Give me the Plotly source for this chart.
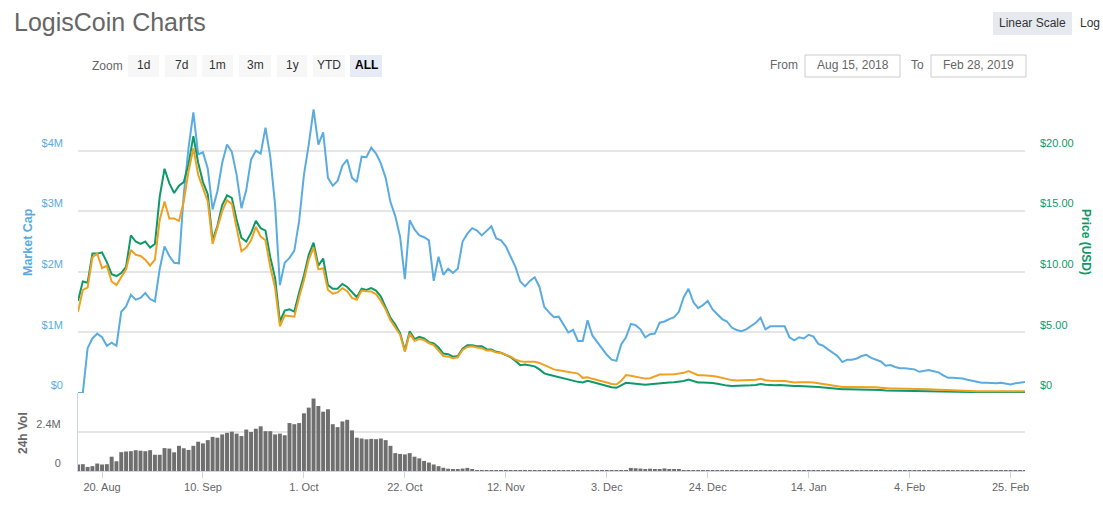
import plotly.graph_objects as go
import pandas as pd

# ---------------- data (daily, 15 Aug 2018 .. 28 Feb 2019) ----------------
start_date = "2018-08-15"
n_days = 198

market_cap_musd = [
    0, 0, 0.74, 0.90, 0.98, 0.92, 0.78, 0.83, 0.78, 1.34,
    1.43, 1.62, 1.54, 1.57, 1.65, 1.55, 1.51, 2.05, 2.42, 2.26,
    2.15, 2.14, 3.28, 4.05, 4.63, 3.94, 3.97, 3.70, 3.03, 3.33,
    3.80, 4.10, 3.98, 3.60, 3.05, 3.35, 3.85, 4.00, 3.95, 4.38,
    3.90, 3.10, 1.78, 2.15, 2.23, 2.35, 2.84, 3.60, 4.10, 4.68,
    4.10, 4.30, 3.55, 3.42, 3.50, 3.75, 3.85, 3.55, 3.48, 3.90,
    3.89, 4.05, 3.95, 3.79, 3.55, 3.15, 2.92, 2.58, 1.88, 2.85,
    2.70, 2.60, 2.57, 2.52, 1.85, 2.25, 1.95, 2.05, 1.98, 2.05,
    2.50, 2.63, 2.72, 2.68, 2.60, 2.67, 2.75, 2.55, 2.52, 2.42,
    2.25, 2.08, 1.84, 1.76, 1.85, 1.91, 1.75, 1.42, 1.33, 1.25,
    1.26, 1.13, 1.00, 1.04, 0.86, 0.86, 1.20, 0.95, 0.84, 0.75,
    0.63, 0.55, 0.53, 0.80, 0.92, 1.14, 1.12, 1.05, 0.92, 0.97,
    0.98, 1.16, 1.18, 1.22, 1.25, 1.34, 1.58, 1.72, 1.50, 1.40,
    1.45, 1.52, 1.38, 1.30, 1.22, 1.18, 1.08, 1.04, 1.02, 1.05,
    1.10, 1.16, 1.24, 1.05, 1.10, 1.10, 1.10, 1.10, 0.92, 0.87,
    0.92, 0.90, 0.96, 0.93, 0.81, 0.78, 0.72, 0.66, 0.61, 0.51,
    0.55, 0.55, 0.57, 0.61, 0.63, 0.58, 0.55, 0.52, 0.45, 0.46,
    0.43, 0.41, 0.41, 0.40, 0.39, 0.35, 0.36, 0.38, 0.36, 0.34,
    0.29, 0.25, 0.25, 0.25, 0.24, 0.22, 0.20, 0.18, 0.17, 0.17,
    0.16, 0.16, 0.17, 0.15, 0.14, 0.16, 0.17, 0.18,
]

price_usd = [
    7.6, 9.2, 9.1, 11.5, 11.5, 11.6, 10.8, 9.8, 9.65, 9.9,
    10.4, 13.0, 12.5, 12.3, 12.5, 12.0, 12.3, 16.2, 18.5, 17.3,
    16.5, 17.1, 17.4, 18.9, 21.2, 19.0, 17.4, 16.4, 12.6, 13.8,
    15.5, 16.3, 16.1, 14.3, 12.8, 12.5, 13.2, 14.2, 13.6, 13.4,
    11.2, 9.5, 5.9, 6.8, 6.9, 6.72, 8.3, 9.7, 11.4, 12.4,
    10.5, 11.1, 8.9, 8.6, 8.6, 9.0, 8.75, 8.3, 7.9, 8.6,
    8.5, 8.65, 8.45, 7.95, 7.1, 6.2, 5.65, 4.95, 3.5, 5.1,
    4.45, 4.64, 4.50, 4.20, 4.09, 3.75, 3.25, 3.20, 3.00, 3.05,
    3.65, 3.95, 3.95, 3.85, 3.85, 3.62, 3.60, 3.40, 3.32, 3.15,
    2.95, 2.65, 2.30, 2.35, 2.29, 2.20, 1.95, 1.62, 1.50, 1.40,
    1.33, 1.22, 1.12, 1.04, 0.92, 0.87, 1.00, 0.90, 0.80, 0.65,
    0.55, 0.47, 0.43, 0.62, 0.84, 0.81, 0.77, 0.72, 0.69, 0.72,
    0.77, 0.81, 0.85, 0.86, 0.88, 0.91, 0.99, 1.12, 0.98, 0.87,
    0.86, 0.86, 0.83, 0.76, 0.67, 0.61, 0.58, 0.58, 0.60, 0.63,
    0.63, 0.66, 0.75, 0.68, 0.63, 0.63, 0.66, 0.62, 0.60, 0.58,
    0.58, 0.58, 0.56, 0.52, 0.49, 0.44, 0.40, 0.36, 0.31, 0.30,
    0.30, 0.30, 0.30, 0.30, 0.30, 0.28, 0.26, 0.24, 0.20, 0.19,
    0.19, 0.19, 0.19, 0.19, 0.18, 0.17, 0.16, 0.16, 0.15, 0.14,
    0.13, 0.12, 0.11, 0.10, 0.09, 0.08, 0.08, 0.08, 0.08, 0.08,
    0.08, 0.08, 0.08, 0.08, 0.08, 0.08, 0.08, 0.08,
]

price_btc = [
    0.001072, 0.001360, 0.001392, 0.001792, 0.001840, 0.001648, 0.001680, 0.001472, 0.001424, 0.001536,
    0.001632, 0.001888, 0.001824, 0.001808, 0.001760, 0.001680, 0.001760, 0.002288, 0.002528, 0.002304,
    0.002304, 0.002272, 0.002528, 0.002928, 0.003232, 0.002880, 0.002704, 0.002528, 0.001968, 0.002176,
    0.002400, 0.002544, 0.002496, 0.002176, 0.001872, 0.001920, 0.002016, 0.002192, 0.002064, 0.002016,
    0.001664, 0.001392, 0.000880, 0.001024, 0.001016, 0.001008, 0.001264, 0.001488, 0.001760, 0.001920,
    0.001632, 0.001648, 0.001360, 0.001312, 0.001328, 0.001384, 0.001344, 0.001256, 0.001232, 0.001352,
    0.001344, 0.001339, 0.001304, 0.001216, 0.001104, 0.000960, 0.000864, 0.000768, 0.000544, 0.000784,
    0.000688, 0.000712, 0.000699, 0.000656, 0.000632, 0.000560, 0.000488, 0.000480, 0.000459, 0.000472,
    0.000568, 0.000608, 0.000616, 0.000600, 0.000592, 0.000560, 0.000560, 0.000536, 0.000528, 0.000504,
    0.000480, 0.000440, 0.000419, 0.000411, 0.000411, 0.000411, 0.000397, 0.000368, 0.000336, 0.000312,
    0.000301, 0.000291, 0.000283, 0.000272, 0.000256, 0.000200, 0.000208, 0.000187, 0.000173, 0.000157,
    0.000138, 0.000120, 0.000112, 0.000160, 0.000237, 0.000229, 0.000216, 0.000200, 0.000190, 0.000195,
    0.000224, 0.000243, 0.000243, 0.000243, 0.000248, 0.000256, 0.000266, 0.000288, 0.000256, 0.000235,
    0.000235, 0.000232, 0.000224, 0.000214, 0.000198, 0.000184, 0.000170, 0.000165, 0.000166, 0.000168,
    0.000168, 0.000176, 0.000189, 0.000168, 0.000163, 0.000163, 0.000163, 0.000157, 0.000147, 0.000138,
    0.000141, 0.000146, 0.000142, 0.000138, 0.000128, 0.000117, 0.000106, 0.000093, 0.000083, 0.000080,
    0.000080, 0.000080, 0.000082, 0.000083, 0.000083, 0.000080, 0.000077, 0.000070, 0.000059, 0.000058,
    0.000058, 0.000058, 0.000058, 0.000058, 0.000054, 0.000051, 0.000050, 0.000048, 0.000045, 0.000042,
    0.000038, 0.000035, 0.000030, 0.000029, 0.000026, 0.000022, 0.000022, 0.000022, 0.000022, 0.000022,
    0.000022, 0.000022, 0.000022, 0.000022, 0.000022, 0.000022, 0.000022, 0.000022,
]

volume_musd = [
    0.40, 0.42, 0.25, 0.30, 0.46, 0.40, 0.42, 0.88, 0.60, 1.16,
    1.20, 1.22, 1.28, 1.25, 1.22, 1.28, 1.00, 1.00, 1.41, 1.38,
    1.15, 1.55, 1.40, 1.30, 1.55, 1.80, 1.70, 1.90, 2.10, 2.05,
    2.25, 2.35, 2.42, 2.30, 2.15, 2.55, 2.40, 2.60, 2.75, 2.45,
    2.45, 2.25, 2.30, 2.20, 2.95, 2.88, 2.95, 3.55, 3.90, 4.46,
    4.00, 3.65, 3.80, 2.88, 2.70, 3.05, 3.15, 2.50, 2.05, 2.00,
    1.95, 1.98, 1.96, 2.00, 1.90, 1.55, 1.10, 1.05, 1.02, 1.10,
    0.88, 0.78, 0.62, 0.52, 0.40, 0.30, 0.20, 0.14, 0.10, 0.08,
    0.15, 0.19, 0.10, 0.06, 0.05, 0.06, 0.05, 0.06, 0.05, 0.04,
    0.05, 0.04, 0.05, 0.04, 0.03, 0.04, 0.03, 0.03, 0.04, 0.03,
    0.03, 0.02, 0.03, 0.02, 0.02, 0.03, 0.02, 0.02, 0.02, 0.02,
    0.03, 0.02, 0.02, 0.03, 0.04, 0.19, 0.17, 0.15, 0.12, 0.14,
    0.10, 0.12, 0.16, 0.12, 0.10, 0.08, 0.05, 0.06, 0.04, 0.05,
    0.02, 0.01, 0.01, 0.02, 0.01, 0.01, 0.01, 0.01, 0.01, 0.01,
    0.01, 0.01, 0.01, 0.01, 0.01, 0.01, 0.01, 0.01, 0.05, 0.01,
    0.01, 0.01, 0.01, 0.01, 0.01, 0.01, 0.01, 0.01, 0.01, 0.01,
    0.01, 0.01, 0.01, 0.01, 0.01, 0.01, 0.01, 0.01, 0.01, 0.01,
    0.01, 0.01, 0.01, 0.01, 0.01, 0.01, 0.01, 0.01, 0.01, 0.01,
    0.01, 0.01, 0.01, 0.01, 0.01, 0.01, 0.01, 0.01, 0.01, 0.01,
    0.01, 0.01, 0.01, 0.01, 0.01, 0.01, 0.01, 0.01,
]

x_tick_dates = ["2018-08-20", "2018-09-10", "2018-10-01", "2018-10-22", "2018-11-12",
                "2018-12-03", "2018-12-24", "2019-01-14", "2019-02-04", "2019-02-25"]
x_tick_labels = ["20. Aug", "10. Sep", "1. Oct", "22. Oct", "12. Nov",
                 "3. Dec", "24. Dec", "14. Jan", "4. Feb", "25. Feb"]
mcap_ticks = [0, 1, 2, 3, 4, 5]
mcap_labels = ["$0", "$1M", "$2M", "$3M", "$4M", ""]
usd_ticks = [0, 5, 10, 15, 20]
usd_labels = ["$0", "$5.00", "$10.00", "$15.00", "$20.00"]
vol_ticks = [0, 2.4]
vol_labels = ["0", "2.4M"]
zoom_buttons = ["1d", "7d", "1m", "3m", "1y", "YTD", "ALL"]

for arr in (market_cap_musd, price_usd, price_btc, volume_musd):
    assert len(arr) == n_days, len(arr)

dates = pd.date_range(start_date, periods=n_days, freq="D")

# ---------------- styling ----------------
BLUE = "#5aace0"
GREEN = "#0e9a68"
ORANGE = "#f0a020"
VOLC = "#6f6f6f"
GRID = "#e6e6e6"
FONT = "Liberation Sans, Arial, sans-serif"

W, H = 1103, 507
L, R, T, B = 78, 78, 90, 36
PW, PH = W - L - R, H - T - B


def px(x):
    return (x - L) / PW


def py(y):
    return (H - B - y) / PH


split = (H - B - 393) / PH

fig = go.Figure()
fig.add_trace(go.Scatter(x=dates, y=market_cap_musd, xaxis="x", yaxis="y", mode="lines",
                         line=dict(color=BLUE, width=2), name="Market Cap"))
fig.add_trace(go.Scatter(x=dates, y=price_usd, xaxis="x", yaxis="y2", mode="lines",
                         line=dict(color=GREEN, width=2), name="Price (USD)"))
fig.add_trace(go.Scatter(x=dates, y=price_btc, xaxis="x", yaxis="y3", mode="lines",
                         line=dict(color=ORANGE, width=2), name="Price (BTC)"))
fig.add_trace(go.Bar(x=dates, y=volume_musd, xaxis="x2", yaxis="y4",
                     marker=dict(color=VOLC, line=dict(width=0)), name="24h Vol"))

xr = ["2018-08-15", "2019-02-28"]
fig.update_layout(
    width=W, height=H,
    margin=dict(l=L, r=R, t=T, b=B),
    paper_bgcolor="white", plot_bgcolor="white",
    showlegend=False, bargap=0.18,
    font=dict(family=FONT, color="#666666", size=11),
    xaxis=dict(domain=[0, 1], anchor="y", range=xr, showgrid=False, showticklabels=False,
               zeroline=False, showline=False, ticks=""),
    xaxis2=dict(domain=[0, 1], anchor="y4", range=xr, matches="x", showgrid=False,
                tickmode="array", tickvals=x_tick_dates, ticktext=x_tick_labels,
                ticks="outside", ticklen=6, tickcolor="#ccd6eb", tickwidth=1,
                showline=True, linecolor="#ccd6eb", linewidth=1,
                tickfont=dict(size=11, color="#666666"), zeroline=False),
    yaxis=dict(domain=[split, 1], anchor="x", range=[0, 5], tickmode="array",
               tickvals=mcap_ticks, ticktext=mcap_labels, showgrid=True, gridcolor=GRID,
               gridwidth=1.5, zeroline=False, showline=False,
               tickfont=dict(size=11, color=BLUE), ticklabelposition="outside top",
               ticklabelstandoff=14),
    yaxis2=dict(overlaying="y", side="right", anchor="x", range=[0, 25], tickmode="array",
                tickvals=usd_ticks, ticktext=usd_labels, showgrid=False, zeroline=False,
                tickfont=dict(size=11, color=GREEN), ticklabelposition="outside top",
                ticklabelstandoff=14),
    yaxis3=dict(overlaying="y", anchor="x", range=[0, 0.004], visible=False),
    yaxis4=dict(domain=[0, split], anchor="x2", range=[0, 4.8], tickmode="array",
                tickvals=vol_ticks, ticktext=vol_labels, showgrid=True, gridcolor=GRID,
                gridwidth=1.5, zeroline=False, showline=True, linecolor="#ccd6eb",
                tickfont=dict(size=11, color="#666666"), ticklabelposition="outside top",
                ticklabelstandoff=14),
)

shapes = []
ann = []

# title
ann.append(dict(text="LogisCoin Charts", x=px(12), y=py(22), xanchor="left", yanchor="middle",
                font=dict(size=25, color="#666666", family=FONT)))

# axis titles
ann.append(dict(text="<b>Market Cap</b>", x=px(28), y=py(242), textangle=-90,
                xanchor="center", yanchor="middle", font=dict(size=12.5, color=BLUE, family=FONT)))
ann.append(dict(text="<b>Price (USD)</b>", x=px(1086), y=py(242), textangle=90,
                xanchor="center", yanchor="middle", font=dict(size=12, color=GREEN, family=FONT)))
ann.append(dict(text="<b>24h Vol</b>", x=px(23), y=py(433), textangle=-90,
                xanchor="center", yanchor="middle", font=dict(size=12, color="#666666", family=FONT)))

# zoom buttons
ann.append(dict(text="Zoom", x=px(107), y=py(66), xanchor="center", yanchor="middle",
                font=dict(size=12, color="#666666", family=FONT)))
btn_x = [(128, 159), (165, 197), (202, 233), (239, 271), (277, 307), (313, 345), (350, 382)]
for lab, (x0, x1) in zip(zoom_buttons, btn_x):
    sel = lab == "ALL"
    shapes.append(dict(type="rect", xref="paper", yref="paper", x0=px(x0), x1=px(x1),
                       y0=py(77), y1=py(55), fillcolor="#e6ebf5" if sel else "#f7f7f7",
                       line=dict(width=0), layer="below"))
    ann.append(dict(text=f"<b>{lab}</b>" if sel else lab, x=px((x0 + x1) / 2), y=py(65.5),
                    xanchor="center", yanchor="middle",
                    font=dict(size=12, color="#000000" if sel else "#333333", family=FONT)))

# scale buttons
shapes.append(dict(type="rect", xref="paper", yref="paper", x0=px(993), x1=px(1072),
                   y0=py(35), y1=py(12), fillcolor="#e6e9ee", line=dict(width=0), layer="below"))
ann.append(dict(text="Linear Scale", x=px(1032.5), y=py(23.5), xanchor="center", yanchor="middle",
                font=dict(size=12, color="#333333", family=FONT)))
ann.append(dict(text="Log", x=px(1090), y=py(23.5), xanchor="center", yanchor="middle",
                font=dict(size=12, color="#333333", family=FONT)))

# date range inputs
ann.append(dict(text="From", x=px(784), y=py(65.5), xanchor="center", yanchor="middle",
                font=dict(size=12, color="#666666", family=FONT)))
ann.append(dict(text="To", x=px(917), y=py(65.5), xanchor="center", yanchor="middle",
                font=dict(size=12, color="#666666", family=FONT)))
for (x0, x1), txt in [((805, 900), "Aug 15, 2018"), ((931, 1026), "Feb 28, 2019")]:
    shapes.append(dict(type="rect", xref="paper", yref="paper", x0=px(x0), x1=px(x1),
                       y0=py(77), y1=py(55), fillcolor="white",
                       line=dict(width=1, color="#cccccc"), layer="below"))
    ann.append(dict(text=txt, x=px((x0 + x1) / 2), y=py(65.5), xanchor="center", yanchor="middle",
                    font=dict(size=12, color="#666666", family=FONT)))

for a in ann:
    a.setdefault("xref", "paper")
    a.setdefault("yref", "paper")
    a.setdefault("showarrow", False)

fig.update_layout(shapes=shapes, annotations=ann)
fig.write_html(
    "out.html",
    config={"displayModeBar": False},
    post_script="document.body.style.margin='0';document.body.style.overflow='hidden';",
)
